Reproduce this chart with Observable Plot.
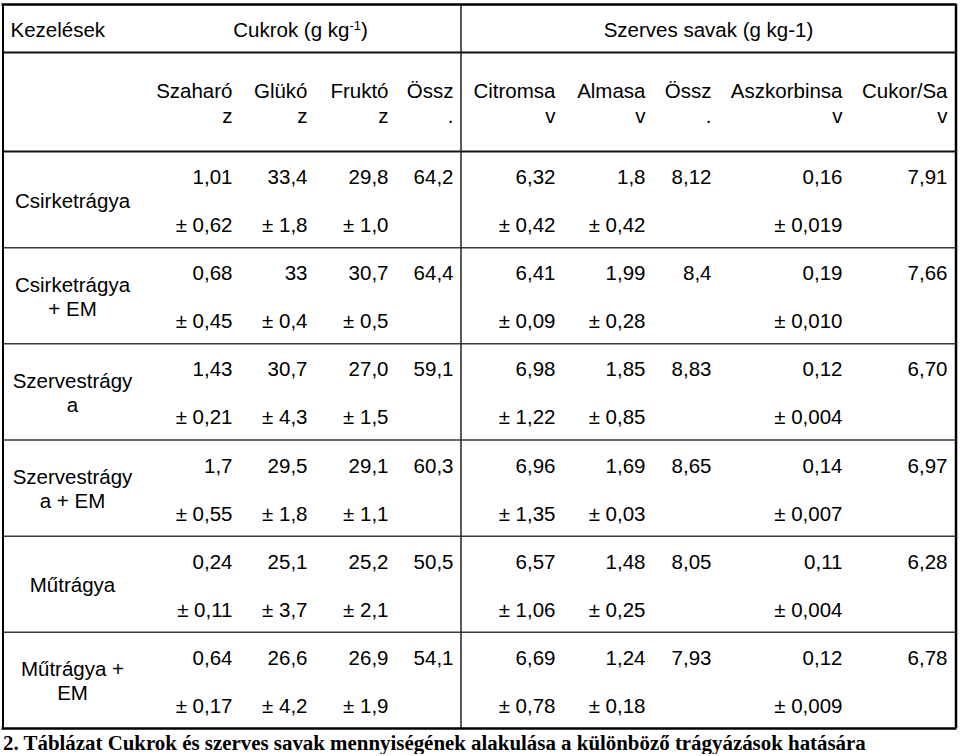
<!DOCTYPE html>
<html>
<head>
<meta charset="utf-8">
<script src="https://cdn.jsdelivr.net/npm/d3@7"></script>
<script src="https://cdn.jsdelivr.net/npm/@observablehq/plot@0.6"></script>
<style>
  html, body { margin: 0; padding: 0; background: #fff; }
  #chart svg { display: block; }
  #caption {
    font-family: "Liberation Serif", "Times New Roman", serif;
    font-weight: bold;
    font-size: 20.9px;
    line-height: 22px;
    padding-left: 3px;
    color: #000;
    white-space: nowrap;
  }
</style>
</head>
<body>
<div id="chart"></div>
<div id="caption">2. Táblázat Cukrok és szerves savak mennyiségének alakulása a különböző trágyázások hatására</div>
<script>
// ---- data ----
const groupHeaders = ["Kezelések", "Cukrok (g kg-1)", "Szerves savak (g kg-1)"];
const columnLabels = ["Szaharó\nz", "Glükó\nz", "Fruktó\nz", "Össz\n.", "Citromsa\nv", "Almasa\nv", "Össz\n.", "Aszkorbinsa\nv", "Cukor/Sa\nv"];
const treatments = ["Csirketrágya", "Csirketrágya\n+ EM", "Szervestrágy\na", "Szervestrágy\na + EM", "Műtrágya", "Műtrágya +\nEM"];

const szaharoz      = ["1,01", "0,68", "1,43", "1,7", "0,24", "0,64"];
const szaharozSd    = ["0,62", "0,45", "0,21", "0,55", "0,11", "0,17"];
const glukoz        = ["33,4", "33", "30,7", "29,5", "25,1", "26,6"];
const glukozSd      = ["1,8", "0,4", "4,3", "1,8", "3,7", "4,2"];
const fruktoz       = ["29,8", "30,7", "27,0", "29,1", "25,2", "26,9"];
const fruktozSd     = ["1,0", "0,5", "1,5", "1,1", "2,1", "1,9"];
const osszCukor     = ["64,2", "64,4", "59,1", "60,3", "50,5", "54,1"];
const citromsav     = ["6,32", "6,41", "6,98", "6,96", "6,57", "6,69"];
const citromsavSd   = ["0,42", "0,09", "1,22", "1,35", "1,06", "0,78"];
const almasav       = ["1,8", "1,99", "1,85", "1,69", "1,48", "1,24"];
const almasavSd     = ["0,42", "0,28", "0,85", "0,03", "0,25", "0,18"];
const osszSav       = ["8,12", "8,4", "8,83", "8,65", "8,05", "7,93"];
const aszkorbinsav  = ["0,16", "0,19", "0,12", "0,14", "0,11", "0,12"];
const aszkorbinsavSd= ["0,019", "0,010", "0,004", "0,007", "0,004", "0,009"];
const cukorSav      = ["7,91", "7,66", "6,70", "6,97", "6,28", "6,78"];

// ---- layout ----
const W = 960, H = 732;
const FONT = "Liberation Sans, Arial, sans-serif";
const FS = 20.5;
const colRight = [232, 307, 388, 453, 555, 645, 711, 842, 947];
const top0 = 4, head1 = 52, head2 = 151, bottom = 728;
const rowH = (bottom - head2) / treatments.length;
const rowTop = treatments.map((_, i) => head2 + i * rowH);
const xL = 2.5, xMid = 460.5, xR = 955.5;

const columns = [
  [szaharoz, szaharozSd], [glukoz, glukozSd], [fruktoz, fruktozSd], [osszCukor, null],
  [citromsav, citromsavSd], [almasav, almasavSd], [osszSav, null],
  [aszkorbinsav, aszkorbinsavSd], [cukorSav, null]
];

const valueCells = [];
const sdCells = [];
columns.forEach(([vals, sds], c) => {
  vals.forEach((v, r) => {
    valueCells.push({x: colRight[c], y: rowTop[r] + 32.5, t: v});
    if (sds) sdCells.push({x: colRight[c], y: rowTop[r] + 80.5, t: "± " + sds[r]});
  });
});

const labelCells = treatments.map((t, r) => ({
  x: 72, y: rowTop[r] + 56 + (t.split("\n").length - 1) * 12, t
}));
const colHeaderCells = columnLabels.map((t, c) => ({x: colRight[c], y: 122, t}));
const groupCells = [
  {x: 10, y: 36, t: groupHeaders[0], a: "start"},
  {x: 300, y: 36, t: groupHeaders[1], a: "middle"},
  {x: 708, y: 36, t: groupHeaders[2], a: "middle"}
];

const textOpts = {fontSize: FS, fontFamily: FONT, fill: "#000", lineAnchor: "bottom", lineHeight: 25 / FS};

const chart = Plot.plot({
  width: W,
  height: H,
  margin: 0,
  style: {background: "#fff", fontFamily: FONT},
  x: {type: "linear", domain: [0, W], range: [0, W], axis: null},
  y: {type: "linear", domain: [0, H], range: [0, H], axis: null},
  marks: [
    // internal row separators
    Plot.ruleY(rowTop.slice(1), {y: d => d, x1: xL, x2: xR, stroke: "#3a3a3a", strokeWidth: 1.5}),
    // header separators
    Plot.ruleY([head1], {y: d => d, x1: xL, x2: xR, stroke: "#111", strokeWidth: 2}),
    Plot.ruleY([head2], {y: d => d, x1: xL, x2: xR, stroke: "#111", strokeWidth: 2.2}),
    // middle vertical
    Plot.ruleX([xMid], {x: d => d, y1: top0, y2: bottom, stroke: "#222", strokeWidth: 1.5}),
    // outer border
    Plot.ruleY([top0, bottom], {y: d => d, x1: xL - 1, x2: xR + 1, stroke: "#000", strokeWidth: 2.5}),
    Plot.ruleX([xL], {x: d => d, y1: top0, y2: bottom, stroke: "#000", strokeWidth: 2}),
    Plot.ruleX([xR], {x: d => d, y1: top0, y2: bottom, stroke: "#000", strokeWidth: 2.5}),
    // texts
    Plot.text(groupCells.filter(d => d.a === "start"), {x: "x", y: "y", text: "t", textAnchor: "start", ...textOpts}),
    Plot.text(groupCells.filter(d => d.a === "middle"), {x: "x", y: "y", text: "t", textAnchor: "middle", ...textOpts}),
    Plot.text(colHeaderCells, {x: "x", y: "y", text: "t", textAnchor: "end", ...textOpts}),
    Plot.text(labelCells, {x: "x", y: "y", text: "t", textAnchor: "middle", ...textOpts, lineHeight: 24 / FS}),
    Plot.text(valueCells, {x: "x", y: "y", text: "t", textAnchor: "end", ...textOpts}),
    Plot.text(sdCells, {x: "x", y: "y", text: "t", textAnchor: "end", ...textOpts})
  ]
});

// superscript for "kg-1" in the sugar group header
d3.select(chart).selectAll("text").each(function () {
  if (this.textContent === "Cukrok (g kg-1)") {
    const el = d3.select(this);
    el.text("");
    el.append("tspan").text("Cukrok (g kg");
    el.append("tspan").attr("dy", "-7").attr("font-size", 13).text("-1");
    el.append("tspan").attr("dy", "7").text(")");
  }
});

document.getElementById("chart").appendChild(chart);
</script>
</body>
</html>
